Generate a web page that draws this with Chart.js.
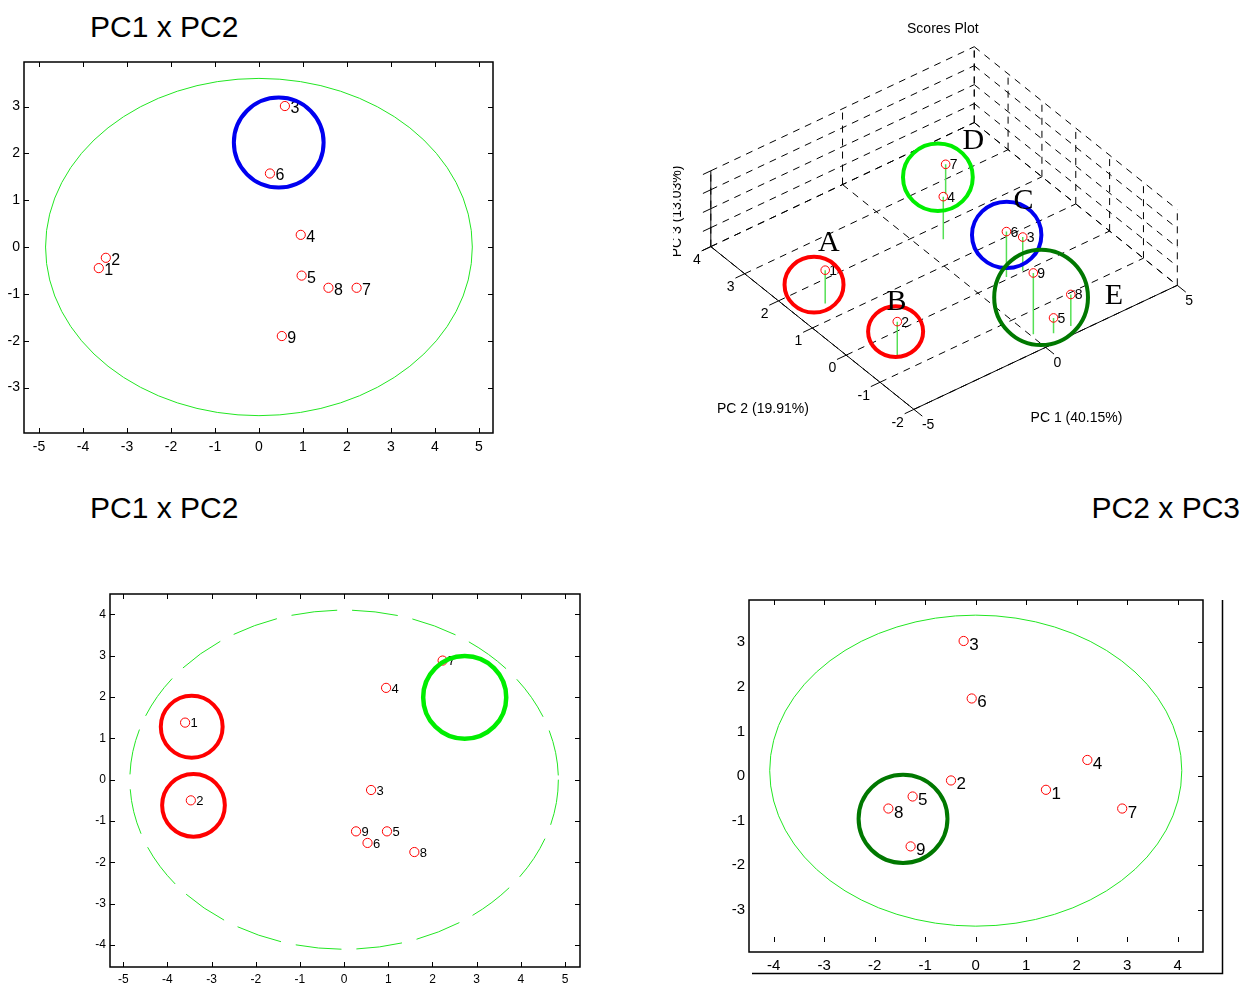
<!DOCTYPE html>
<html>
<head>
<meta charset="utf-8">
<script src="https://cdn.jsdelivr.net/npm/chart.js@4.4.1/dist/chart.umd.min.js"></script>
<style>
  body { margin:0; width:1242px; height:985px; background:#fff; position:relative; overflow:hidden;
         font-family:"Liberation Sans", Arial, sans-serif; }
  canvas { position:absolute; }
  .ttl { position:absolute; font-size:30px; line-height:1; color:#000; white-space:nowrap; }
</style>
</head>
<body>
<div class="ttl" style="left:90px;top:12px">PC1 x PC2</div>
<div class="ttl" style="left:90px;top:493px">PC1 x PC2</div>
<div class="ttl" style="right:2px;top:493px">PC2 x PC3</div>
<canvas id="c1" width="520" height="430" style="left:0;top:40px"></canvas>
<canvas id="c2" width="622" height="460" style="left:620px;top:0"></canvas>
<canvas id="c3" width="540" height="415" style="left:60px;top:570px"></canvas>
<canvas id="c4" width="542" height="415" style="left:700px;top:570px"></canvas>
<script>
const FONT = '"Liberation Sans", Arial, sans-serif';
const sampleLabels = ['1','2','3','4','5','6','7','8','9'];

// top-left panel scores
const p1X = [-3.64, -3.48, 0.59, 0.95, 0.97, 0.25, 2.22, 1.58, 0.52];
const p1Y = [-0.45, -0.23, 3.01, 0.26, -0.61, 1.57, -0.87, -0.87, -1.90];
const p1XTicks = [-5, -4, -3, -2, -1, 0, 1, 2, 3, 4, 5];
const p1YTicks = [-3, -2, -1, 0, 1, 2, 3];

// bottom-left panel scores
const p3X = [-3.60, -3.47, 0.61, 0.95, 0.97, 0.53, 2.23, 1.59, 0.27];
const p3Y = [1.38, -0.50, -0.25, 2.22, -1.25, -1.53, 2.88, -1.75, -1.25];
const p3XTicks = [-5, -4, -3, -2, -1, 0, 1, 2, 3, 4, 5];
const p3YTicks = [-4, -3, -2, -1, 0, 1, 2, 3, 4];

// bottom-right panel (PC2 x PC3)
const p4X = [1.39, -0.49, -0.24, 2.21, -1.25, -0.08, 2.90, -1.73, -1.29];
const p4Y = [-0.31, -0.10, 3.03, 0.36, -0.46, 1.74, -0.73, -0.73, -1.58];
const p4XTicks = [-4, -3, -2, -1, 0, 1, 2, 3, 4];
const p4YTicks = [-3, -2, -1, 0, 1, 2, 3];

// 3D scores plot
const pc1 = [-3.96, -3.78, 1.74, 0.78, 0.61, 1.16, 2.18, 1.24, 0.10];
const pc2 = [1.43, -0.56, 0.03, 1.63, -1.76, 0.06, 2.65, -1.78, -1.56];
const pc3 = [-0.49, -0.46, -0.45, 0.49, -2.38, 0.80, -0.85, -0.67, 2.46];
const pc1Ticks = [-5, 0, 5];
const pc2Ticks = [-2, -1, 0, 1, 2, 3, 4];
const pc3Ticks = [-4, -2, 0, 2, 4];

// inward tick marks, box, ellipses, rings and point labels for the 2D panels
function panelPlugin(o) {
  const drawShapes = (chart, list) => {
    const { ctx, chartArea: a, scales: { x, y } } = chart;
    ctx.save();
    ctx.beginPath(); ctx.rect(a.left, a.top, a.width, a.height); ctx.clip();
    list.forEach(s => {
      const cx = x.getPixelForValue(s.cx), cy = y.getPixelForValue(s.cy);
      const rx = Math.abs(x.getPixelForValue(s.cx + s.rx) - cx);
      const ry = Math.abs(y.getPixelForValue(s.cy + s.ry) - cy);
      ctx.beginPath();
      ctx.ellipse(cx, cy, rx, ry, 0, 0, Math.PI * 2);
      ctx.strokeStyle = s.color; ctx.lineWidth = s.width;
      ctx.setLineDash(s.dash || []);
      ctx.stroke();
    });
    ctx.restore();
  };
  return {
    id: 'panel',
    beforeDatasetsDraw(chart) { drawShapes(chart, o.shapes); },
    afterDatasetsDraw(chart) {
      const { ctx, chartArea: a, scales: { x, y } } = chart;
      ctx.save();
      ctx.fillStyle = '#000';
      ctx.font = o.lf + 'px ' + FONT;
      ctx.textBaseline = 'alphabetic';
      chart.getDatasetMeta(0).data.forEach((el, i) => {
        ctx.fillText(sampleLabels[i], el.x + o.ldx, el.y + o.ldy);
      });
      ctx.restore();
      drawShapes(chart, o.rings || []);
      ctx.save();
      ctx.strokeStyle = '#000';
      ctx.lineWidth = 1;
      const L = 5;
      ctx.beginPath();
      x.ticks.forEach(t => {
        const p = Math.round(x.getPixelForValue(t.value)) + 0.5;
        ctx.moveTo(p, a.top); ctx.lineTo(p, a.top + L);
        const b = a.bottom - (o.bottomTickLift || 0);
        ctx.moveTo(p, b); ctx.lineTo(p, b - L);
      });
      y.ticks.forEach(t => {
        const p = Math.round(y.getPixelForValue(t.value)) + 0.5;
        if (o.leftTicks !== false) { ctx.moveTo(a.left, p); ctx.lineTo(a.left + L, p); }
        ctx.moveTo(a.right, p); ctx.lineTo(a.right - L, p);
      });
      ctx.stroke();
      ctx.lineWidth = 1.5;
      ctx.strokeRect(a.left, a.top, a.width, a.height);
      if (o.extraFrame) {
        const f = o.extraFrame;
        ctx.beginPath();
        ctx.moveTo(f.x, f.top); ctx.lineTo(f.x, f.y); ctx.lineTo(f.left, f.y);
        ctx.stroke();
      }
      ctx.restore();
    }
  };
}

function scorePanel(id, xs, ys, xTicks, yTicks, o) {
  const cv = document.getElementById(id);
  const W = cv.width, H = cv.height;
  return new Chart(cv, {
    type: 'scatter',
    data: {
      datasets: [{
        data: xs.map((v, i) => ({ x: v, y: ys[i] })),
        pointStyle: 'circle', pointRadius: o.r, pointHoverRadius: o.r,
        borderColor: '#ff0000', backgroundColor: 'rgba(0,0,0,0)', borderWidth: 1
      }]
    },
    options: {
      responsive: false, animation: false, devicePixelRatio: 1,
      layout: { padding: { left: 0, top: o.area[1], right: W - o.area[2], bottom: H - o.area[3] - o.xh } },
      plugins: { legend: { display: false }, tooltip: { enabled: false } },
      scales: {
        x: {
          type: 'linear', min: o.xr[0], max: o.xr[1],
          grid: { display: false, drawTicks: false }, border: { display: false },
          afterBuildTicks: s => { s.ticks = xTicks.map(v => ({ value: v })); },
          afterFit: s => { s.height = o.xh; },
          ticks: { font: { family: FONT, size: o.tf }, color: '#000', padding: o.xpad,
                   maxRotation: 0, autoSkip: false, callback: v => String(v) }
        },
        y: {
          type: 'linear', min: o.yr[0], max: o.yr[1],
          grid: { display: false, drawTicks: false }, border: { display: false },
          afterBuildTicks: s => { s.ticks = yTicks.map(v => ({ value: v })); },
          afterFit: s => { s.width = o.area[0]; },
          ticks: { font: { family: FONT, size: o.tf }, color: '#000', padding: o.ypad,
                   autoSkip: false, callback: v => String(v) }
        }
      }
    },
    plugins: [panelPlugin(o)]
  });
}

scorePanel('c1', p1X, p1Y, p1XTicks, p1YTicks, {
  area: [24, 22, 493, 393], xh: 30, xr: [-5.34, 5.32], yr: [-3.97, 3.95],
  r: 4.6, tf: 14, xpad: 6, ypad: 4, lf: 16, ldx: 5.5, ldy: 7,
  shapes: [{ cx: 0, cy: 0, rx: 4.85, ry: 3.6, color: '#22e622', width: 1 }],
  rings: [{ cx: 0.45, cy: 2.23, rx: 1.02, ry: 0.96, color: '#0000f0', width: 4 }]
});

scorePanel('c3', p3X, p3Y, p3XTicks, p3YTicks, {
  area: [50, 24, 520, 397], xh: 18, xr: [-5.30, 5.34], yr: [-4.53, 4.49],
  r: 4.6, tf: 12, xpad: 5, ypad: 4, lf: 13, ldx: 5.5, ldy: 4.7,
  shapes: [{ cx: 0, cy: 0, rx: 4.85, ry: 4.1, color: '#22e622', width: 1, dash: [46, 15] }],
  rings: [
    { cx: -3.45, cy: 1.28, rx: 0.70, ry: 0.75, color: '#ff0000', width: 4 },
    { cx: -3.41, cy: -0.62, rx: 0.71, ry: 0.76, color: '#ff0000', width: 4 },
    { cx: 2.73, cy: 1.99, rx: 0.94, ry: 1.0, color: '#00ee00', width: 4.5 }
  ]
});

scorePanel('c4', p4X, p4Y, p4XTicks, p4YTicks, {
  area: [49, 30, 503, 382], xh: 30, xr: [-4.49, 4.50], yr: [-3.95, 3.95],
  r: 4.6, tf: 15, xpad: 5, ypad: 4, lf: 17, ldx: 5.5, ldy: 9,
  leftTicks: false, bottomTickLift: 10,
  extraFrame: { x: 522.5, top: 30, y: 403.5, left: 52 },
  shapes: [{ cx: 0, cy: 0.12, rx: 4.08, ry: 3.49, color: '#22e622', width: 1 }],
  rings: [{ cx: -1.44, cy: -0.96, rx: 0.88, ry: 0.99, color: '#007800', width: 4 }]
});

// ---- 3D scores plot, projected onto the page plane ----
function project(a, b, c) {
  return {
    x: 707 + (a + 5) * 26.8 + (4 - b) * 34.43,
    y: 247 - (a + 5) * 12.7 + (4 - b) * 27.77 - (c + 4) * 9.7
  };
}

const seg = (p, q, dash, color, w) => ({
  data: [project(...p), project(...q)], showLine: true, pointRadius: 0, pointHoverRadius: 0,
  borderColor: color, borderWidth: w, borderDash: dash, fill: false
});

const ds3 = [];
ds3.push({
  data: pc1.map((v, i) => project(v, pc2[i], pc3[i])),
  pointStyle: 'circle', pointRadius: 4.3, pointHoverRadius: 4.3,
  borderColor: '#ff0000', backgroundColor: 'rgba(0,0,0,0)', borderWidth: 1
});
pc1.forEach((v, i) => ds3.push(seg([v, pc2[i], pc3[i]], [v, pc2[i], -4], [], '#55e055', 1.5)));
// solid axes + ticks
ds3.push(seg([-5, 4, -4], [-5, 4, 4], [], '#000', 1));
ds3.push(seg([-5, 4, -4], [-5, -2, -4], [], '#000', 1));
ds3.push(seg([-5, -2, -4], [5, -2, -4], [], '#000', 1));
pc3Ticks.forEach(z => ds3.push(seg([-5, 4, z], [-5.3, 4, z], [], '#000', 1)));
pc2Ticks.forEach(b => ds3.push(seg([-5, b, -4], [-5.35, b, -4], [], '#000', 1)));
pc1Ticks.forEach(a => ds3.push(seg([a, -2, -4], [a, -2.25, -4], [], '#000', 1)));
// dashed grid on floor and two back walls
const D = [7, 6];
pc2Ticks.forEach(b => ds3.push(seg([-5, b, -4], [5, b, -4], D, '#000', 1)));
pc1Ticks.forEach(a => ds3.push(seg([a, 4, -4], [a, -2, -4], D, '#000', 1)));
pc3Ticks.forEach(z => ds3.push(seg([-5, 4, z], [5, 4, z], D, '#000', 1)));
pc1Ticks.forEach(a => ds3.push(seg([a, 4, -4], [a, 4, 4], D, '#000', 1)));
pc3Ticks.forEach(z => ds3.push(seg([5, 4, z], [5, -2, z], D, '#000', 1)));
pc2Ticks.forEach(b => ds3.push(seg([5, b, -4], [5, b, 4], D, '#000', 1)));

// group rings drawn on the figure (page-pixel units of this plot)
const rings3d = [
  { cx: 812, cy: 286, rx: 30, ry: 28.5, color: '#ff0000', letter: 'A', lx: 827, ly: 251 },
  { cx: 895, cy: 334, rx: 28, ry: 26, color: '#ff0000', letter: 'B', lx: 896, ly: 312 },
  { cx: 1008, cy: 235, rx: 35.3, ry: 34, color: '#0000f0', letter: 'C', lx: 1025, ly: 208 },
  { cx: 938, cy: 176, rx: 35.5, ry: 34.5, color: '#00ee00', letter: 'D', lx: 974, ly: 147 },
  { cx: 1043, cy: 299, rx: 47.7, ry: 48.8, color: '#007800', letter: 'E', lx: 1117, ly: 306 }
];

const scoresPlugin = {
  id: 'scores',
  afterDatasetsDraw(chart) {
    const { ctx, scales: { x, y } } = chart;
    const P = p => ({ x: x.getPixelForValue(p.x), y: y.getPixelForValue(p.y) });
    ctx.save();
    ctx.fillStyle = '#000';
    ctx.font = '14px ' + FONT;
    ctx.textBaseline = 'alphabetic';
    ctx.textAlign = 'left';
    chart.getDatasetMeta(0).data.forEach((el, i) => ctx.fillText(sampleLabels[i], el.x + 4, el.y + 5));

    rings3d.forEach(r => {
      const c = P({ x: r.cx, y: r.cy });
      const rx = x.getPixelForValue(r.cx + r.rx) - c.x;
      const ry = y.getPixelForValue(r.cy + r.ry) - c.y;
      ctx.beginPath();
      ctx.ellipse(c.x, c.y, Math.abs(rx), Math.abs(ry), 0, 0, Math.PI * 2);
      ctx.strokeStyle = r.color; ctx.lineWidth = 4; ctx.stroke();
    });
    ctx.font = '30px "Liberation Serif", "Times New Roman", serif';
    ctx.textAlign = 'center';
    rings3d.forEach(r => { const q = P({ x: r.lx, y: r.ly }); ctx.fillText(r.letter, q.x, q.y); });

    ctx.font = '14px ' + FONT;
    ctx.textBaseline = 'middle';
    ctx.textAlign = 'right';
    pc3Ticks.forEach(z => { const q = P(project(-5, 4, z)); ctx.fillText(String(z), 699, q.y - 4.5); });
    pc2Ticks.forEach(b => { const q = P(project(-5, b, -4)); ctx.fillText(String(b), q.x - 10, q.y + 13.5); });
    ctx.textAlign = 'left';
    pc1Ticks.forEach(a => { const q = P(project(a, -2, -4)); ctx.fillText(String(a), q.x + 8, q.y + 15.5); });

    ctx.textAlign = 'center';
    let q = P({ x: 943, y: 24 }); ctx.fillText('Scores Plot', q.x, q.y);
    q = P({ x: 760, y: 413 }); ctx.fillText('PC 2 (19.91%)', q.x, q.y);
    q = P({ x: 1079, y: 423 }); ctx.fillText('PC 1 (40.15%)', q.x, q.y);
    q = P({ x: 672.5, y: 211 });
    ctx.save();
    ctx.beginPath(); ctx.rect(q.x - 4, 0, 40, 460); ctx.clip();
    ctx.translate(q.x, q.y); ctx.rotate(-Math.PI / 2);
    ctx.fillText('PC 3 (13.03%)', 0, 0);
    ctx.restore();
    ctx.restore();
  }
};

new Chart(document.getElementById('c2'), {
  type: 'scatter',
  data: { datasets: ds3 },
  options: {
    responsive: false, animation: false, devicePixelRatio: 1,
    layout: { padding: 0 },
    plugins: { legend: { display: false }, tooltip: { enabled: false } },
    scales: {
      x: { type: 'linear', min: 620, max: 1242, display: false },
      y: { type: 'linear', min: 0, max: 460, reverse: true, display: false }
    }
  },
  plugins: [scoresPlugin]
});
</script>
</body>
</html>
